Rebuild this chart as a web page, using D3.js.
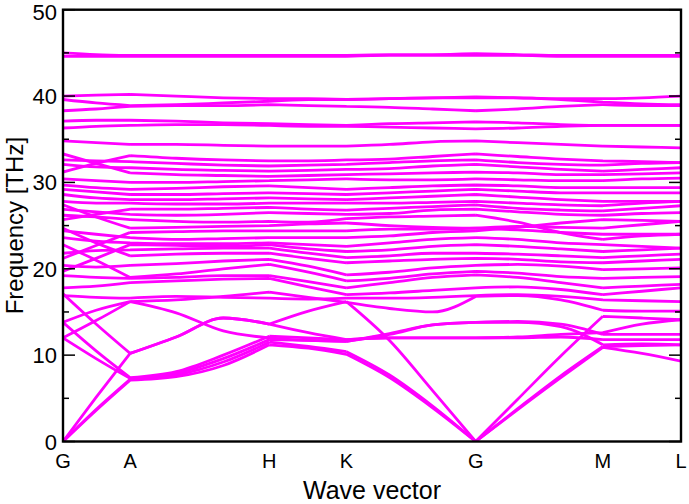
<!DOCTYPE html>
<html><head><meta charset="utf-8">
<script src="https://cdn.jsdelivr.net/npm/d3@7/dist/d3.min.js"></script>
<style>html,body{margin:0;padding:0;background:#fff;}svg{display:block;font-family:"Liberation Sans",Arial,sans-serif;}</style>
</head><body><svg id="c" width="689" height="504"></svg>
<script>
// High-symmetry path labels and positions (path distance units)
const kLabels = ["G","A","H","K","G","M","L"];
const kLabelPos = [0,67,206,283,412,539,617];
// sampled k positions along the path
const kPoints = [0,33,67,113,160,206,245,283,326,369,412,454,497,539,578,617];
const yTicks = [0,10,20,30,40,50];
const yMinor = [5,15,25,35,45];

// frequencies (THz) at each kPoint
const lowBands = [
 [0,3.6,7.1,7.5,8.8,11.2,10.8,10.1,7.4,3.9,0,3.7,7.4,10.9,10.2,9.3],
 [0,3.7,7.2,7.7,9.2,11.5,11.0,10.4,7.7,4.1,0,3.8,7.6,11.0,11.1,11.2],
 [0,5.1,10.2,12.1,14.3,13.6,15.1,16.2,11.7,5.9,0,4.9,9.9,14.5,14.3,14.1],
 [12.0,9.6,7.3,7.9,9.6,11.8,11.7,11.6,12.5,13.5,13.8,13.8,13.3,11.2,11.3,11.2],
 [13.8,10.5,7.4,8.1,10.0,12.2,12.0,11.8,12.0,12.0,12.0,12.0,12.1,11.8,11.8,11.8],
 [12.0,14.0,16.2,14.9,12.8,12.0,11.7,11.6,12.4,13.5,13.8,13.9,13.6,12.4,12.4,12.4],
 [13.8,15.2,16.2,16.4,16.8,17.3,16.7,16.1,15.4,15.0,16.8,16.9,16.4,15.2,15.1,15.1],
 [17.1,13.6,10.2,12.1,14.3,13.6,12.6,11.8,12.0,12.0,12.0,12.1,12.4,12.6,13.6,14.1]
];
const midBands = [
 [16.9,16.7,16.6,16.8,16.7,16.6,16.5,16.6,16.6,16.7,16.9,17.0,16.8,16.4,16.3,16.2],
 [17.8,18.0,18.4,18.6,18.8,18.9,17.9,17.0,17.2,17.5,17.8,17.9,17.6,17.0,17.4,17.8],
 [19.2,19.0,18.9,19.0,19.2,19.2,18.5,17.8,18.4,19.0,19.3,19.0,18.4,17.8,18.0,18.2],
 [22.8,21.0,19.0,19.4,20.0,20.5,19.6,18.6,18.9,19.4,19.7,19.5,19.1,18.9,19.0,19.1],
 [20.4,20.2,20.4,20.6,20.9,21.1,20.3,19.3,19.6,20.1,20.4,20.5,20.3,19.9,20.0,20.1],
 [24.7,23.0,21.5,21.7,21.8,21.8,21.2,20.7,20.9,21.1,21.2,21.1,20.8,20.7,20.9,21.1],
 [21.8,22.1,22.2,22.3,22.4,22.4,21.8,21.3,21.5,21.8,21.8,21.7,21.5,21.3,21.5,21.7],
 [19.7,21.2,22.8,22.7,22.6,22.8,22.3,22.0,22.2,22.6,22.8,22.6,22.3,22.0,22.2,22.4],
 [23.6,23.2,23.0,22.9,22.9,23.0,22.8,22.6,23.0,23.4,23.6,23.4,23.0,22.8,22.6,22.4],
 [24.4,24.0,23.6,23.4,23.5,23.6,23.6,23.6,23.8,24.2,24.4,24.8,25.3,25.7,25.6,25.5],
 [21.2,22.7,24.2,24.3,24.4,24.4,24.4,24.4,24.6,24.6,24.7,24.5,24.2,24.0,24.0,24.0],
 [27.4,26.0,24.7,24.8,24.9,25.0,25.2,25.3,25.0,24.8,24.7,24.9,24.8,24.7,25.1,25.5],
 [26.2,26.0,25.7,25.5,25.4,25.5,25.4,25.8,26.0,26.1,26.2,25.4,24.2,23.4,23.8,24.0],
 [26.9,26.6,26.3,26.2,26.3,26.5,26.4,26.3,26.4,26.8,26.9,26.6,26.3,26.2,26.4,26.5],
 [25.7,26.3,26.9,26.9,27.0,27.1,26.9,26.8,27.0,27.2,27.4,27.0,26.8,26.7,27.0,27.3],
 [27.8,27.6,27.6,27.5,27.5,27.6,27.6,27.6,27.6,27.7,27.8,27.6,27.4,27.3,27.6,27.8],
 [28.6,28.2,28.0,28.0,28.1,28.2,28.1,28.0,28.2,28.4,28.6,28.3,28.0,27.8,27.8,27.8],
 [29.2,28.9,28.6,28.6,28.7,28.8,28.7,28.6,28.8,29.0,29.2,29.0,28.8,28.8,28.8,28.8],
 [29.7,29.4,29.2,29.3,29.5,29.6,29.4,29.2,29.4,29.6,29.7,29.6,29.4,29.4,29.4,29.4],
 [30.4,30.2,30.0,30.0,30.1,30.2,30.3,30.4,30.3,30.3,30.4,30.3,30.2,30.2,30.4,30.5],
 [33.3,32.2,31.1,30.9,30.8,30.7,30.8,30.9,31.0,31.1,31.2,31.1,30.9,30.9,31.0,31.1],
 [32.1,31.8,31.7,31.5,31.4,31.3,31.4,31.5,31.6,31.9,32.1,31.8,31.5,31.3,31.5,31.7],
 [32.6,32.5,32.4,32.2,32.0,31.9,32.0,32.1,32.3,32.5,32.6,32.3,32.1,32.0,32.2,32.3],
 [31.2,32.2,33.1,32.8,32.6,32.5,32.5,32.6,32.7,33.0,33.3,33.0,32.7,32.5,32.4,32.3],
 [34.8,34.6,34.4,34.4,34.3,34.2,34.2,34.2,34.4,34.7,34.8,34.6,34.4,34.2,34.1,34.0]
];
const highBands = [
 [36.3,36.5,36.6,36.7,36.7,36.6,36.5,36.5,36.4,36.3,36.2,36.3,36.5,36.6,36.6,36.6],
 [37.1,37.2,37.2,37.1,36.9,36.8,36.7,36.6,36.8,36.9,37.0,36.9,36.7,36.6,36.6,36.6],
 [38.3,38.5,38.8,38.9,38.9,39.0,38.9,38.8,38.7,38.5,38.3,38.5,38.8,39.0,38.9,38.9],
 [39.6,39.2,38.9,39.0,39.2,39.4,39.6,39.6,39.7,39.8,39.8,39.8,39.6,39.3,39.1,39.0],
 [40.0,40.1,40.2,40.0,39.8,39.7,39.7,39.6,39.7,39.8,39.9,39.8,39.7,39.7,39.8,40.0],
 [44.6,44.6,44.6,44.6,44.6,44.6,44.6,44.6,44.7,44.7,44.7,44.7,44.6,44.6,44.6,44.6],
 [45.0,44.8,44.7,44.7,44.7,44.7,44.7,44.7,44.8,44.8,44.9,44.8,44.7,44.7,44.7,44.7]
];

const svg = d3.select("#c");
const L = 63, R = 681, T = 9.7, B = 441.5;
const x = d3.scaleLinear().domain([0, 617]).range([L, R]);
const y = d3.scaleLinear().domain([0, 50]).range([B, T]);

svg.append("defs").append("clipPath").attr("id","clip")
  .append("rect").attr("x",L).attr("y",T).attr("width",R-L).attr("height",B-T);

const segIdx = kLabelPos.map(p => kPoints.indexOf(p));
const line = d3.line().x(d => x(d[0])).y(d => y(d[1])).curve(d3.curveMonotoneX);
const g = svg.append("g").attr("clip-path","url(#clip)");
const allBands = lowBands.concat(midBands, highBands);
allBands.forEach(band => {
  let dstr = "";
  for (let s = 0; s < segIdx.length - 1; s++) {
    const pts = [];
    for (let i = segIdx[s]; i <= segIdx[s+1]; i++) pts.push([kPoints[i], band[i]]);
    dstr += line(pts);
  }
  g.append("path").attr("d", dstr).attr("fill","none")
    .attr("stroke","#f0f").attr("stroke-width",2.8).attr("stroke-linejoin","round");
});

// frame
svg.append("rect").attr("x",L).attr("y",T).attr("width",R-L).attr("height",B-T)
  .attr("fill","none").attr("stroke","#000").attr("stroke-width",2.4);

// y ticks (inward both sides)
const ax = svg.append("g").attr("stroke","#000").attr("stroke-width",1.5);
yTicks.forEach(v => {
  ax.append("line").attr("x1",L).attr("x2",L+12).attr("y1",y(v)).attr("y2",y(v));
  ax.append("line").attr("x1",R-12).attr("x2",R).attr("y1",y(v)).attr("y2",y(v));
});
yMinor.forEach(v => {
  ax.append("line").attr("x1",L).attr("x2",L+6).attr("y1",y(v)).attr("y2",y(v));
  ax.append("line").attr("x1",R-6).attr("x2",R).attr("y1",y(v)).attr("y2",y(v));
});
svg.append("g").selectAll("text").data(yTicks).join("text")
  .attr("x", 57).attr("y", d => y(d) + 8 + (d===50?2:0))
  .attr("text-anchor","end").attr("font-size",22).attr("fill","#000").text(d => d);

// k labels
svg.append("g").selectAll("text").data(kLabels).join("text")
  .attr("x",(d,i) => x(kLabelPos[i])).attr("y",468)
  .attr("text-anchor","middle").attr("font-size",20).attr("fill","#000").text(d => d);

svg.append("text").attr("x",(L+R)/2).attr("y",499).attr("text-anchor","middle")
  .attr("font-size",25).attr("fill","#000").text("Wave vector");
svg.append("text").attr("transform",`translate(23,${(T+B)/2}) rotate(-90)`)
  .attr("text-anchor","middle").attr("font-size",24).attr("fill","#000").text("Frequency [THz]");
</script></body></html>
